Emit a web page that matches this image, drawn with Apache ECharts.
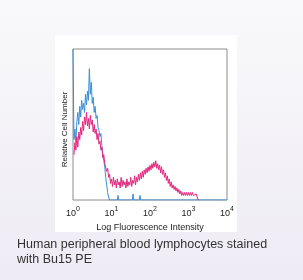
<!DOCTYPE html>
<html><head><meta charset="utf-8">
<script src="https://cdn.jsdelivr.net/npm/echarts@6/dist/echarts.min.js"></script>
<style>html,body{margin:0;padding:0;background:#f2f0f4;}#c{width:303px;height:280px;}</style>
</head><body><div id="c"></div>
<script>
// x is log10(fluorescence); bins of width 0.025 decades
var binWidth = 0.025;
var xTickLabels = ['0','1','2','3','4'];
var xTitle = 'Log Fluorescence Intensity';
var yTitle = 'Relative Cell Number';
var caption = 'Human peripheral blood lymphocytes stained\nwith Bu15 PE';

// isotype control (blue), starting at bin 0
var blueStartBin = 0;
var blueValues = [100,40,47,38,52,58,50,62,55,66,60,64,58,70,63,72,66,87,70,78,64,68,58,62,54,56,48,46,42,44,36,30,26,22,15,10,5,2,0];
// sparse blips after the peak: [log10 x, value]
var blueTail = [[1.0,0],[1.15,0],[1.17,3],[1.19,0],[1.54,0],[1.56,4],[1.58,0],[1.72,0],[1.74,3],[1.76,0],[4,0]];

// Bu15 PE (magenta), starting at bin 1
var pinkStartBin = 1;
var pinkValues = [30,38,33,42,35,45,40,48,43,52,46,55,50,58,49,54,47,56,50,53,45,50,44,47,40,44,37,39,33,35,28,30,24,25,19,21,15,17,11,14,
9,15,10,13,8,14,10,12,8,15,9,13,10,12,8,14,9,12,10,15,9,13,11,16,10,15,12,17,13,18,14,19,15,20,17,21,18,22,19,23,
20,24,21,25,22,26,21,24,20,23,18,22,17,20,15,18,13,16,11,14,9,12,8,10,7,9,6,8,5,7,4,6,3,5,3,5,3,5,3,5,3,5,3,5,3,4,3,4,2,0];

function toPoints(startBin, vals){
  return vals.map(function(v,i){ return [(startBin+i)*binWidth, v]; });
}
var blueData = toPoints(blueStartBin, blueValues).concat(blueTail);
var pinkData = toPoints(pinkStartBin, pinkValues);

var chart = echarts.init(document.getElementById('c'));
chart.setOption({
  backgroundColor: new echarts.graphic.LinearGradient(0,0,0,1,[{offset:0,color:'#f9f9fb'},{offset:1,color:'#eeebf4'}]),
  animation: false,
  graphic: [
    {type:'rect', left:55, top:35, shape:{width:182, height:197}, style:{fill:'#ffffff'}, z:-10},
    {type:'text', left:17, top:237, style:{text:caption, font:'12.5px "Liberation Sans", Arial, sans-serif', fill:'#333333', lineHeight:15}}
  ],
  grid: {left:73, right:76, top:49, bottom:80, show:true, borderColor:'#8c8c8c', borderWidth:1, backgroundColor:'#ffffff'},
  xAxis: {
    type:'value', min:0, max:4, interval:1,
    name: xTitle, nameLocation:'middle', nameGap:18,
    nameTextStyle:{fontSize:9, color:'#222', fontFamily:'Liberation Sans, Arial, sans-serif'},
    axisLine:{show:false}, axisTick:{show:false}, splitLine:{show:false},
    axisLabel:{
      margin:6,
      formatter:function(v){ return '{b|10}{s|' + xTickLabels[Math.round(v)] + '}'; },
      rich:{
        b:{fontSize:9, color:'#222', fontFamily:'Liberation Sans, Arial, sans-serif', verticalAlign:'bottom', lineHeight:12},
        s:{fontSize:7, color:'#222', fontFamily:'Liberation Sans, Arial, sans-serif', verticalAlign:'top', lineHeight:12, padding:[0,0,5,0]}
      }
    }
  },
  yAxis: {
    type:'value', min:0, max:100,
    name: yTitle, nameLocation:'middle', nameGap:4, nameRotate:90,
    nameTextStyle:{fontSize:8, color:'#222', fontFamily:'Liberation Sans, Arial, sans-serif', padding:[0,10,0,0]},
    axisLine:{show:false}, axisTick:{show:false}, axisLabel:{show:false}, splitLine:{show:false}
  },
  series: [
    {type:'line', data:blueData, symbol:'none', lineStyle:{color:'#3b8ed8', width:1}, z:2},
    {type:'line', data:pinkData, symbol:'none', lineStyle:{color:'#e2267f', width:1}, z:3}
  ]
});
</script>
</body></html>
